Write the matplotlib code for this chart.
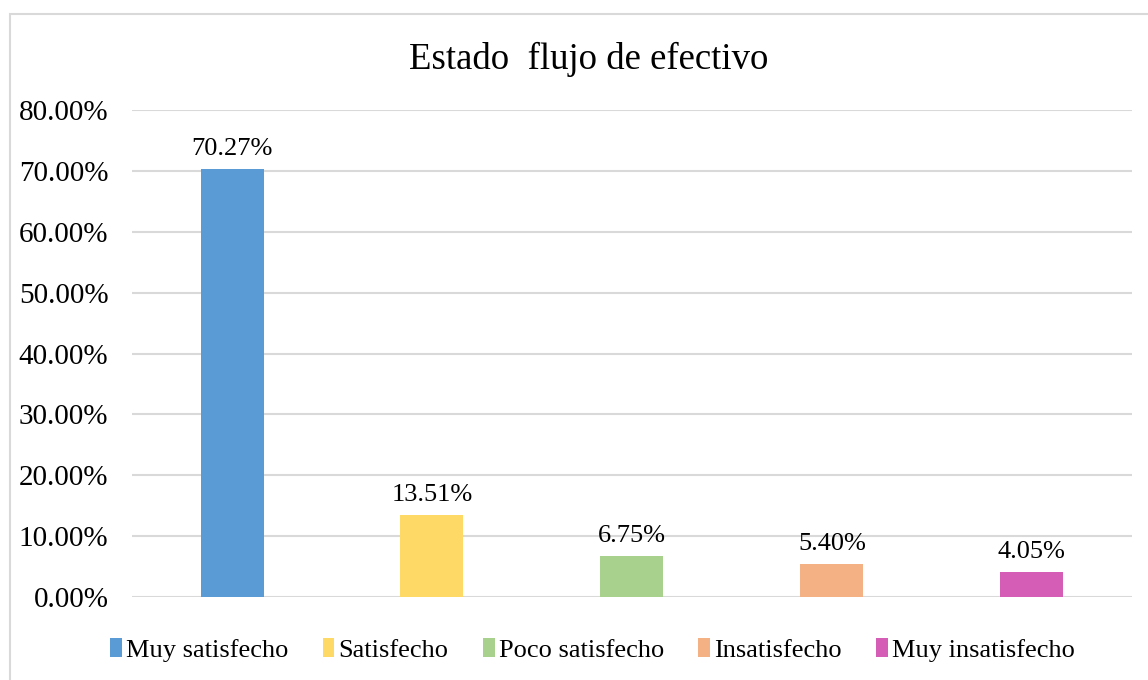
import matplotlib
matplotlib.use('Agg')
import matplotlib.pyplot as plt
from matplotlib.patches import Rectangle

categories = ['Muy satisfecho', 'Satisfecho', 'Poco satisfecho', 'Insatisfecho', 'Muy insatisfecho']
values = [0.7027, 0.1351, 0.0675, 0.0540, 0.0405]
labels = ['70.27%', '13.51%', '6.75%', '5.40%', '4.05%']
colors = ['#5B9BD5', '#FFD966', '#A9D18E', '#F4B183', '#D55DB5']
yticks = [0.0, 0.1, 0.2, 0.3, 0.4, 0.5, 0.6, 0.7, 0.8]

plt.rcParams['font.family'] = ['Liberation Serif', 'DejaVu Serif']

fig = plt.figure(figsize=(11.48, 6.8), dpi=100)
ax = fig.add_axes([0.115, 0.122, 0.871, 0.716])

# outer chart frame
fig.patches.append(Rectangle((10 / 1148, -0.05), 1.1, 1.05 - 14 / 680,
                             transform=fig.transFigure, fill=False,
                             edgecolor='#d9d9d9', lw=1.5))

x = list(range(len(categories)))
bars = ax.bar(x, values, width=0.315, color=colors, zorder=3)
for xi, v, lab in zip(x, values, labels):
    ax.text(xi, v + 0.015, lab, ha='center', va='bottom', fontsize=19)

ax.set_xlim(-0.5, len(categories) - 0.5)
ax.set_ylim(0, 0.8)
ax.set_yticks(yticks)
ax.set_yticklabels([f'{t * 100:.2f}%' for t in yticks], fontsize=21)
ax.set_xticks([])
ax.tick_params(axis='y', length=0, pad=17)
ax.grid(axis='y', color='#d9d9d9', lw=1.5, zorder=0)
for s in ax.spines.values():
    s.set_visible(False)

fig.text(0.513, 0.912, 'Estado  flujo de efectivo', ha='center', va='center', fontsize=26.5)

fig.legend(bars, categories, loc='center', bbox_to_anchor=(0.516, 0.044), ncol=5,
           frameon=False, fontsize=19, handlelength=0.45, handleheight=0.75,
           handletextpad=0.15, columnspacing=1.3)

fig.savefig('out.png', dpi=100)
